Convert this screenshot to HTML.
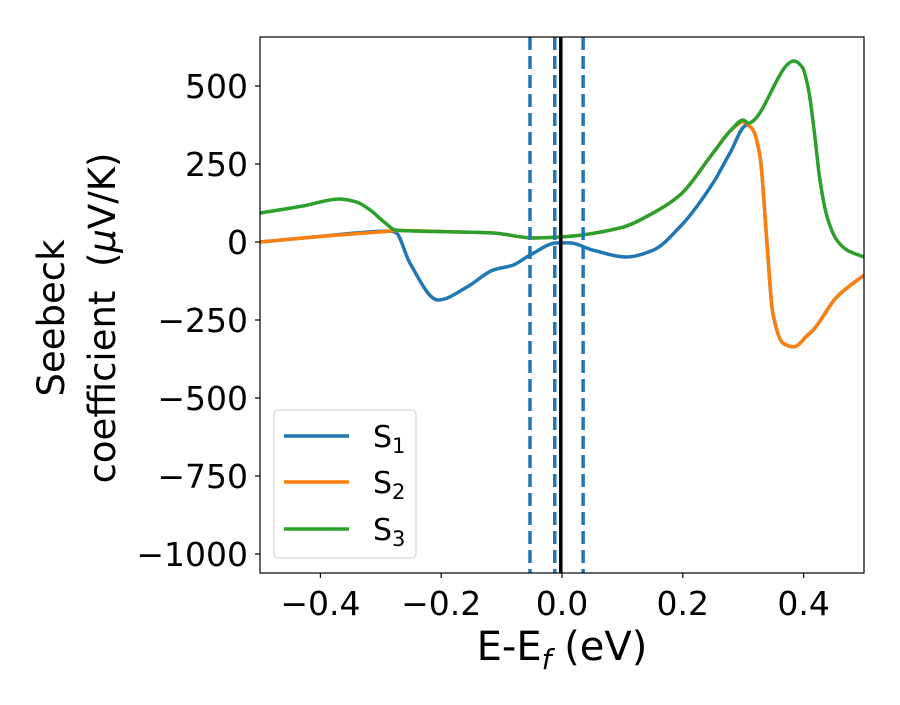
<!DOCTYPE html>
<html><head><meta charset="utf-8"><style>
body{margin:0;background:#fff;}
svg text{font-family:"DejaVu Sans","Liberation Sans",sans-serif;fill:#000;}
</style></head><body>
<svg id="chart" width="900" height="700" xmlns="http://www.w3.org/2000/svg">
<g id="plot"></g>
</svg>
<script>
const xTicks=[-0.4,-0.2,0.0,0.2,0.4];
const xTickLabels=["\u22120.4","\u22120.2","0.0","0.2","0.4"];
const yTicks=[500,250,0,-250,-500,-750,-1000];
const yTickLabels=["500","250","0","\u2212250","\u2212500","\u2212750","\u22121000"];
const s1X=[-0.5,-0.4,-0.285,-0.275,-0.252,-0.205,-0.157,-0.114,-0.081,-0.053,-0.008,0.013,0.051,0.107,0.151,0.195,0.25,0.278,0.306,0.316,0.328,0.339,0.349,0.366,0.384,0.406,0.416,0.455,0.5];
const s1Y=[0,18,35,30,-67,-186,-144,-90,-74,-42,-3,-3,-26,-48,-26,48,189,285,375,360,272,6,-228,-324,-336,-300,-282,-176,-106];
const s2X=[-0.5,-0.4,-0.285,-0.275,-0.169,-0.114,-0.048,-0.003,0.096,0.151,0.195,0.25,0.28,0.3,0.308,0.316,0.328,0.339,0.349,0.366,0.384,0.406,0.416,0.455,0.5];
const s2Y=[0,18,35,37,32,29,13,16,45,93,150,285,359,385,376,360,272,6,-228,-324,-336,-300,-282,-176,-106];
const s3X=[-0.5,-0.43,-0.368,-0.34,-0.318,-0.295,-0.275,-0.169,-0.114,-0.048,-0.003,0.096,0.151,0.195,0.25,0.28,0.3,0.308,0.384,0.398,0.408,0.418,0.427,0.439,0.455,0.472,0.5];
const s3Y=[93,115,138,128,103,65,38,32,29,13,16,45,93,150,285,359,391,381,580,560,490,349,199,80,6,-26,-48];
const vDashed=[-0.053,-0.012,0.035];
const vSolid=[-0.002];

const L=260,R=864,T=37,B=573;
const sx=v=>L+(v+0.5)*(R-L);
const sy=v=>242-v*0.312;
const NS="http://www.w3.org/2000/svg";
const svg=document.getElementById('chart');
const g=document.getElementById('plot');
function mk(tag,attrs,parent){const e=document.createElementNS(NS,tag);for(const k in attrs)e.setAttribute(k,attrs[k]);(parent||svg).appendChild(e);return e;}
const cp=mk('clipPath',{id:'clip'});mk('rect',{x:L,y:T,width:R-L,height:B-T},cp);
function pathD(xs,ys){
  const X=xs.map(sx),Y=ys.map(sy),n=X.length;
  const d=[],m=new Array(n);
  for(let i=0;i<n-1;i++)d.push((Y[i+1]-Y[i])/(X[i+1]-X[i]));
  m[0]=d[0];m[n-1]=d[n-2];
  for(let i=1;i<n-1;i++){
    if(d[i-1]*d[i]<=0)m[i]=0;
    else{const w1=2*(X[i+1]-X[i])+(X[i]-X[i-1]),w2=(X[i+1]-X[i])+2*(X[i]-X[i-1]);m[i]=(w1+w2)/(w1/d[i-1]+w2/d[i]);}
  }
  let s='M'+X[0]+','+Y[0];
  for(let i=0;i<n-1;i++){
    const h=(X[i+1]-X[i])/3;
    s+=` C${X[i]+h},${Y[i]+m[i]*h} ${X[i+1]-h},${Y[i+1]-m[i+1]*h} ${X[i+1]},${Y[i+1]}`;
  }
  return s;
}
const series=[[s1X,s1Y,'#1f77b4','series-s1'],[s2X,s2Y,'#ff7f0e','series-s2'],[s3X,s3Y,'#2ca02c','series-s3']];
series.forEach(s=>{
  const e=mk('path',{d:pathD(s[0],s[1]),fill:'none',stroke:s[2],'stroke-width':3.5,'stroke-linejoin':'round','clip-path':'url(#clip)'},g);
  
  
});
vDashed.forEach(v=>{
  const e=mk('line',{x1:sx(v),x2:sx(v),y1:T,y2:B,stroke:'#1f77b4','stroke-width':3.5,'stroke-dasharray':'13,6'},g);
  
  
});
vSolid.forEach(v=>{
  const e=mk('line',{x1:sx(v),x2:sx(v),y1:T,y2:B,stroke:'#000','stroke-width':3.5},g);
  
  
});
const fr=mk('rect',{x:L,y:T,width:R-L,height:B-T,fill:'none',stroke:'#000','stroke-width':1.2});


xTicks.forEach((v,i)=>{
  mk('line',{x1:sx(v),x2:sx(v),y1:B,y2:B+5,stroke:'#000','stroke-width':1.2});
  const t=mk('text',{x:sx(v),y:B+42,'text-anchor':'middle','font-size':33});
  t.textContent=xTickLabels[i];
  
  
});
yTicks.forEach((v,i)=>{
  mk('line',{x1:L-5,x2:L,y1:sy(v),y2:sy(v),stroke:'#000','stroke-width':1.2});
  const t=mk('text',{x:L-12,y:sy(v)+12,'text-anchor':'end','font-size':33});
  t.textContent=yTickLabels[i];
  
  
});
</script>
<svg style="position:absolute;left:0;top:0" width="900" height="700" xmlns="http://www.w3.org/2000/svg">
<text x="562" y="660" text-anchor="middle" font-size="40">E-E<tspan font-size="28" font-style="italic" dy="9">f</tspan><tspan dy="-9"> (eV)</tspan></text>
<g transform="translate(64,318) rotate(-90)">
<text x="0" y="0" text-anchor="middle" font-size="37">Seebeck</text>
<text x="0" y="51" text-anchor="middle" font-size="37" xml:space="preserve">coefficient  (<tspan font-style="italic">μ</tspan>V/K)</text>
</g>
<g>
<rect x="274" y="410" width="142" height="148" rx="4" fill="#fff" fill-opacity="0.8" stroke="#ccc" stroke-width="1"/>
<g><line x1="284" x2="349" y1="436" y2="436" stroke="#1f77b4" stroke-width="3.5"/><text x="373" y="447" font-size="30">S<tspan font-size="21" dy="6">1</tspan></text></g>
<g><line x1="284" x2="349" y1="482" y2="482" stroke="#ff7f0e" stroke-width="3.5"/><text x="373" y="493" font-size="30">S<tspan font-size="21" dy="6">2</tspan></text></g>
<g><line x1="284" x2="349" y1="529" y2="529" stroke="#2ca02c" stroke-width="3.5"/><text x="373" y="540" font-size="30">S<tspan font-size="21" dy="6">3</tspan></text></g>
</g>
</svg>
</body></html>
